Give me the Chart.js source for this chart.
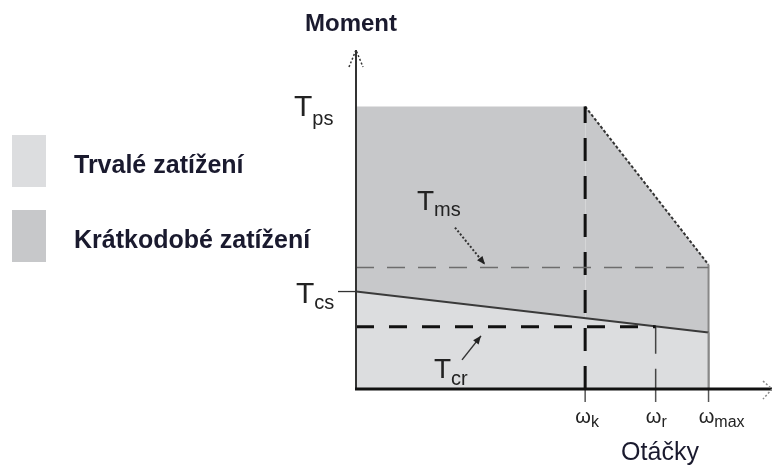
<!DOCTYPE html>
<html>
<head>
<meta charset="utf-8">
<script src="https://cdn.jsdelivr.net/npm/chart.js@4.4.0/dist/chart.umd.min.js"></script>
<style>
  body { margin: 0; background: #fff; }
  #wrap { width: 772px; height: 466px; }
</style>
</head>
<body>
<div id="wrap"><canvas id="graf"></canvas></div>
<script>
// otáčky (relativně, omega_max = 10)
const omegaK = 6.5;
const omegaR = 8.5;
const omegaMax = 10;
const speedTicks = [omegaK, omegaR, omegaMax];
const speedTickLabels = ['k', 'r', 'max'];

// krátkodobé zatížení - obrys oblasti
const peakSpeed = [0, 6.5, 10, 10];
const peakTorque = [10, 10, 4.4, 0];
// trvalé zatížení - obrys oblasti
const contSpeed = [0, 10, 10];
const contTorque = [3.45, 2.0, 0];

const tmsLevel = 4.3;
const tcrLevel = 2.2;

const legendLabels = ['Trvalé zatížení', 'Krátkodobé zatížení'];
const legendColors = ['#dcdddf', '#c7c8ca'];

const FONT = "'Liberation Sans', Arial, sans-serif";

function toXY(xs, ys) {
  return xs.map((x, i) => ({ x: x, y: ys[i] }));
}

function drawSub(ctx, main, sub, x, y, size, subSize, subDy) {
  ctx.font = size + 'px ' + FONT;
  ctx.fillText(main, x, y);
  const w = ctx.measureText(main).width;
  ctx.font = subSize + 'px ' + FONT;
  ctx.fillText(sub, x + w, y + subDy);
}

function arrow(ctx, x1, y1, x2, y2) {
  ctx.beginPath();
  ctx.moveTo(x1, y1);
  ctx.lineTo(x2, y2);
  ctx.stroke();
  const a = Math.atan2(y2 - y1, x2 - x1);
  ctx.beginPath();
  ctx.moveTo(x2, y2);
  ctx.lineTo(x2 - 9 * Math.cos(a - 0.4), y2 - 9 * Math.sin(a - 0.4));
  ctx.lineTo(x2 - 9 * Math.cos(a + 0.4), y2 - 9 * Math.sin(a + 0.4));
  ctx.closePath();
  ctx.fill();
}

const popisky = {
  id: 'popisky',
  afterDatasetsDraw(chart) {
    const ctx = chart.ctx;
    const sx = chart.scales.x;
    const sy = chart.scales.y;
    const x0 = sx.getPixelForValue(0);
    const y0 = sy.getPixelForValue(0);
    const top = chart.chartArea.top;
    const right = chart.width;
    ctx.save();

    // osa y
    ctx.strokeStyle = '#333';
    ctx.lineWidth = 2;
    ctx.beginPath();
    ctx.moveTo(x0, y0);
    ctx.lineTo(x0, top);
    ctx.stroke();
    ctx.lineWidth = 1.5;
    ctx.setLineDash([2, 2]);
    ctx.beginPath();
    ctx.moveTo(x0 - 7, top + 17);
    ctx.lineTo(x0, top);
    ctx.lineTo(x0 + 7, top + 17);
    ctx.stroke();
    ctx.setLineDash([]);

    // značky na ose x
    ctx.strokeStyle = '#555';
    ctx.lineWidth = 1.5;
    speedTicks.forEach(v => {
      const px = sx.getPixelForValue(v);
      ctx.beginPath();
      ctx.moveTo(px, y0);
      ctx.lineTo(px, y0 + 13);
      ctx.stroke();
    });

    // osa x
    ctx.strokeStyle = '#111';
    ctx.lineWidth = 3;
    ctx.beginPath();
    ctx.moveTo(x0 - 1, y0);
    ctx.lineTo(right, y0);
    ctx.stroke();
    ctx.strokeStyle = '#888';
    ctx.lineWidth = 1.5;
    ctx.setLineDash([2, 2]);
    ctx.beginPath();
    ctx.moveTo(right - 9, y0 - 8);
    ctx.lineTo(right, y0);
    ctx.lineTo(right - 9, y0 + 10);
    ctx.stroke();
    ctx.setLineDash([]);

    ctx.fillStyle = '#222';
    ctx.textBaseline = 'alphabetic';

    // popisky otáček
    speedTicks.forEach((v, i) => {
      const px = sx.getPixelForValue(v);
      ctx.font = '20px ' + FONT;
      const w = ctx.measureText('\u03c9').width;
      drawSub(ctx, '\u03c9', speedTickLabels[i], px - w / 2 - 2, 423, 20, 16, 4);
    });

    ctx.fillStyle = '#1a1a2e';
    ctx.textAlign = 'center';
    ctx.font = '25px ' + FONT;
    ctx.fillText('Otáčky', 660, 460);
    ctx.font = 'bold 24px ' + FONT;
    ctx.fillText('Moment', 351, 31);
    ctx.textAlign = 'left';

    // momenty
    ctx.fillStyle = '#222';
    const yPs = sy.getPixelForValue(peakTorque[0]);
    drawSub(ctx, 'T', 'ps', 294, yPs + 9, 30, 20, 9);
    const yCs = sy.getPixelForValue(contTorque[0]);
    drawSub(ctx, 'T', 'cs', 296, yCs + 11, 30, 20, 6);
    ctx.strokeStyle = '#333';
    ctx.lineWidth = 1.3;
    ctx.beginPath();
    ctx.moveTo(x0 - 18, yCs);
    ctx.lineTo(x0, yCs);
    ctx.stroke();

    const yMs = sy.getPixelForValue(tmsLevel);
    drawSub(ctx, 'T', 'ms', 417, yMs - 58, 28, 20, 6);
    ctx.fillStyle = '#222';
    ctx.lineWidth = 2;
    ctx.setLineDash([2, 2]);
    arrow(ctx, 455, yMs - 40, 485, yMs - 3);
    ctx.setLineDash([]);

    const yCr = sy.getPixelForValue(tcrLevel);
    drawSub(ctx, 'T', 'cr', 434, yCr + 51, 28, 20, 7);
    ctx.lineWidth = 1.5;
    arrow(ctx, 462, yCr + 33, 481, yCr + 9);

    // legenda
    legendLabels.forEach((t, i) => {
      const y = i === 0 ? 135 : 210;
      ctx.fillStyle = legendColors[i];
      ctx.fillRect(12, y, 34, 52);
      ctx.fillStyle = '#1a1a2e';
      ctx.font = 'bold 25px ' + FONT;
      ctx.fillText(t, 74, y + 38);
    });

    ctx.restore();
  }
};

const chart = new Chart(document.getElementById('graf'), {
  type: 'line',
  data: {
    datasets: [
      {
        label: legendLabels[0],
        data: toXY(contSpeed, contTorque),
        backgroundColor: legendColors[0],
        fill: 'origin',
        borderWidth: 2,
        segment: {
          borderColor: c => c.p0DataIndex === 0 ? '#3a3a3a' : '#888'
        }
      },
      {
        label: legendLabels[1],
        data: toXY(peakSpeed, peakTorque),
        backgroundColor: legendColors[1],
        fill: 'origin',
        borderWidth: 2,
        segment: {
          borderColor: c => c.p0DataIndex === 0 ? 'rgba(0,0,0,0)' : (c.p0DataIndex === 1 ? '#333' : '#888'),
          borderDash: c => c.p0DataIndex === 1 ? [3, 2] : undefined
        }
      },
      {
        label: 'Tms',
        data: [{ x: 0, y: tmsLevel }, { x: omegaMax, y: tmsLevel }],
        borderColor: '#6d6d6d',
        borderWidth: 1.6,
        borderDash: [18, 13],
        fill: false,
        order: -1
      },
      {
        label: 'Tcr',
        data: [{ x: 0, y: tcrLevel }, { x: omegaR, y: tcrLevel }],
        borderColor: '#111',
        borderWidth: 3,
        borderDash: [18, 15],
        fill: false,
        order: -1
      },
      {
        label: 'wk',
        data: [{ x: omegaK, y: 0 }, { x: omegaK, y: peakTorque[1] }],
        borderColor: '#111',
        borderWidth: 3,
        borderDash: [23, 15],
        fill: false,
        order: -1
      },
      {
        label: 'wr',
        data: [{ x: omegaR, y: tcrLevel }, { x: omegaR, y: 0 }],
        borderColor: '#444',
        borderWidth: 1.5,
        borderDash: [27, 15],
        fill: false,
        order: -1
      }
    ]
  },
  options: {
    responsive: true,
    maintainAspectRatio: false,
    animation: false,
    layout: { padding: { left: 356, right: 0, top: 50, bottom: 77 } },
    elements: { point: { radius: 0 }, line: { tension: 0 } },
    scales: {
      x: { type: 'linear', min: 0, max: 11.8, display: false },
      y: { min: 0, max: 12, display: false }
    },
    plugins: {
      legend: { display: false },
      tooltip: { enabled: false }
    }
  },
  plugins: [popisky]
});
</script>
</body>
</html>
